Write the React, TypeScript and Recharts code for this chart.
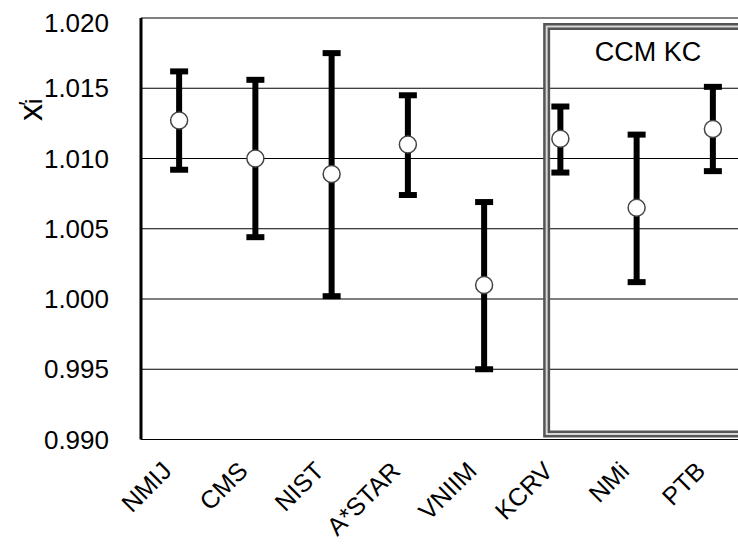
import { ComposedChart, Line, ErrorBar, XAxis, YAxis, CartesianGrid, ReferenceArea } from 'recharts'

const categories = ['NMIJ', 'CMS', 'NIST', 'A*STAR', 'VNIIM', 'KCRV', 'NMi', 'PTB']
const values = [1.0127, 1.01, 1.0089, 1.011, 1.001, 1.0114, 1.0065, 1.0121]
const lower = [1.0092, 1.0044, 1.0002, 1.0074, 0.995, 1.009, 1.0012, 1.0091]
const upper = [1.0162, 1.0156, 1.0175, 1.0145, 1.0069, 1.0137, 1.0117, 1.0151]
const yTicks = [0.99, 0.995, 1.0, 1.005, 1.01, 1.015, 1.02]
const boundaryTicks = [1, 2, 3, 4, 5, 6, 7]
const centerTicks = categories.map((_, i) => i + 0.5)

// the CCM KC frame, in axis units
const boxX = [5.32, 7.98]
const boxY = [0.9904, 1.0194]

const rows = categories.map((name, i) => ({
  pos: i + 0.5,
  name,
  value: values[i],
  err: [values[i] - lower[i], upper[i] - values[i]],
}))

const FONT = '"Liberation Sans", Arial, sans-serif'

function CatTick({ x, y, payload }: any) {
  const label = categories[Math.round(payload.value - 0.5)]
  const tx = x - 6
  const ty = y + 33
  return (
    <text x={tx} y={ty} transform={`rotate(-45, ${tx}, ${ty})`} textAnchor="end" fontSize={25} fill="#000" fontFamily={FONT}>
      {label}
    </text>
  )
}

function YLabel({ viewBox }: any) {
  const x = viewBox.x + 34
  const y = viewBox.y + 103
  return (
    <text x={x} y={y} transform={`rotate(-90, ${x}, ${y})`} fontFamily={FONT} fill="#000">
      <tspan fontSize={34}>x</tspan>
      <tspan fontSize={24}>i</tspan>
      <tspan fontSize={24} dx={-7} dy={-6}>′</tspan>
    </text>
  )
}

export default function App() {
  return (
    <div style={{ position: 'absolute', left: 8, top: 8, width: 730, height: 534, overflow: 'hidden' }}>
      <ComposedChart width={760} height={534} data={rows} margin={{ top: 10, right: 17, left: 0, bottom: 0 }}>
        <CartesianGrid vertical={false} stroke="#000" strokeWidth={1} />
        <XAxis xAxisId="top" orientation="top" type="number" domain={[0, 8]} height={0} tick={false} tickLine={false} axisLine={{ stroke: '#000', strokeWidth: 3 }} />
        <XAxis xAxisId="grid" type="number" domain={[0, 8]} ticks={boundaryTicks} height={0} tick={false} tickSize={-7} tickLine={{ stroke: '#000', strokeWidth: 1.5 }} axisLine={{ stroke: '#000', strokeWidth: 3 }} />
        <XAxis xAxisId="pos" dataKey="pos" type="number" domain={[0, 8]} ticks={centerTicks} height={102.5} tickSize={0} tickMargin={0} tickLine={false} axisLine={false} tick={<CatTick />} interval={0} />
        <YAxis
          type="number"
          domain={[0.99, 1.02]}
          ticks={yTicks}
          width={133}
          tickSize={0}
          tickMargin={32}
          tickLine={false}
          axisLine={{ stroke: '#000', strokeWidth: 3 }}
          tickFormatter={(v: number) => v.toFixed(3)}
          tick={{ fontSize: 26, fill: '#000', fontFamily: FONT }}
          label={<YLabel />}
        />
        <ReferenceArea xAxisId="pos" x1={boxX[0]} x2={boxX[1]} y1={boxY[0]} y2={boxY[1]} fill="none" stroke="#555" strokeWidth={7} />
        <ReferenceArea
          xAxisId="pos"
          x1={boxX[0]}
          x2={boxX[1]}
          y1={boxY[0]}
          y2={boxY[1]}
          fill="none"
          stroke="#d8d8d8"
          strokeWidth={2}
          label={{ value: 'CCM KC', position: 'insideTop', offset: 15, fontSize: 27, fill: '#000', fontFamily: FONT }}
        />
        <Line
          xAxisId="pos"
          dataKey="value"
          stroke="transparent"
          strokeWidth={0}
          isAnimationActive={false}
          dot={{ r: 8.5, fill: '#fff', stroke: '#444', strokeWidth: 1.5 }}
          activeDot={false}
        >
          <ErrorBar dataKey="err" direction="y" width={9} strokeWidth={6} stroke="#000" />
        </Line>
      </ComposedChart>
    </div>
  )
}
